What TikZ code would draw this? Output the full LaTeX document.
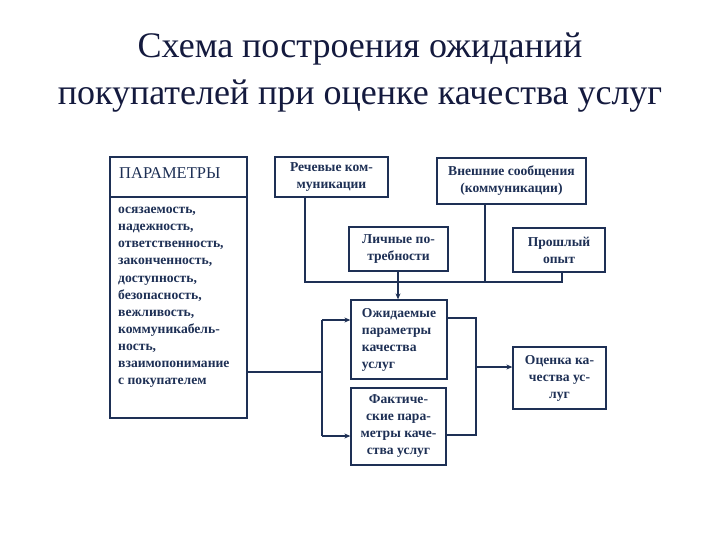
\documentclass[tikz,border=0pt]{standalone}
\usepackage{fontspec}
\setmainfont{Liberation Serif}
\usetikzlibrary{arrows.meta,calc}
\definecolor{ink}{RGB}{30,48,85}
\definecolor{ttl}{RGB}{20,26,62}
\begin{document}
\begin{tikzpicture}[x=1pt,y=-1pt,
  box/.style={draw=ink,line width=1.3pt,inner sep=0pt,text=ink,font=\bfseries\fontsize{13.6}{17}\selectfont,align=center},
  conn/.style={draw=ink,line width=1.1pt},
  arr/.style={conn,-{Stealth[length=6pt,width=5pt]}}]
\useasboundingbox[fill=white] (0,0) rectangle (720,540);
\node[font=\fontsize{36}{47}\selectfont,text=ttl,align=center] (title) at (360,73) {Схема построения ожиданий\\покупателей при оценке качества услуг};
% boxes
\node[box,minimum width=137pt,minimum height=261pt] (par) at (178.5,287.5) {};
\node[box,minimum width=113pt,minimum height=40pt] (rech) at (331.5,177) {Речевые ком-\\муникации};
\node[box,minimum width=149pt,minimum height=46pt] (vnesh) at (511.5,181) {Внешние сообщения\\(коммуникации)};
\node[box,minimum width=99pt,minimum height=44pt] (lich) at (398.5,249) {Личные по-\\требности};
\node[box,minimum width=92pt,minimum height=44pt] (prosh) at (559,250) {Прошлый\\опыт};
\node[box,minimum width=96pt,minimum height=79pt,align=left] (ozhid) at (399,339.5) {Ожидаемые\\параметры\\качества\\услуг};
\node[box,minimum width=95pt,minimum height=77pt] (fakt) at (398.5,426.5) {Фактиче-\\ские пара-\\метры каче-\\ства услуг};
\node[box,minimum width=93pt,minimum height=62pt] (ocen) at (559.5,378) {Оценка ка-\\чества ус-\\луг};
% parameters content
\node[anchor=west,inner sep=0pt,text=ink,font=\fontsize{16.5}{18}\selectfont] (hdr) at (119,173) {ПАРАМЕТРЫ};
\coordinate (sep) at (178,197);
\draw[conn] (par.west |- sep) -- (par.east |- sep);
\node[anchor=north west,inner sep=0pt,align=left,text=ink,font=\bfseries\fontsize{13.6}{17.1}\selectfont] (list) at (118,207)
 {осязаемость,\\надежность,\\ответственность,\\законченность,\\доступность,\\безопасность,\\вежливость,\\коммуникабель-\\ность,\\взаимопонимание\\с покупателем};
% bus
\coordinate (busL) at (305,282);
\coordinate (busR) at (562,282);
\coordinate (busV) at (485,282);
\coordinate (lx) at (398,282);
\draw[conn] (rech.south -| busL) -- (busL) -- (busR) -- (prosh.south -| busR);
\draw[conn] (vnesh.south -| busV) -- (busV);
\draw[arr] (lich.south -| lx) -- (ozhid.north -| lx);
% left feed
\coordinate (lj) at (322,372);
\coordinate (ljt) at (322,320);
\coordinate (ljb) at (322,436);
\draw[conn] (par.east |- lj) -- (lj);
\draw[conn] (ljt) -- (ljb);
\draw[arr] (ljt) -- (ozhid.west |- ljt);
\draw[arr] (ljb) -- (fakt.west |- ljb);
% right merge
\coordinate (rt) at (476,318);
\coordinate (rb) at (476,435);
\coordinate (rm) at (476,367);
\draw[conn] (ozhid.east |- rt) -- (rt) -- (rb) -- (fakt.east |- rb);
\draw[arr] (rm) -- (ocen.west |- rm);
\end{tikzpicture}
\end{document}
